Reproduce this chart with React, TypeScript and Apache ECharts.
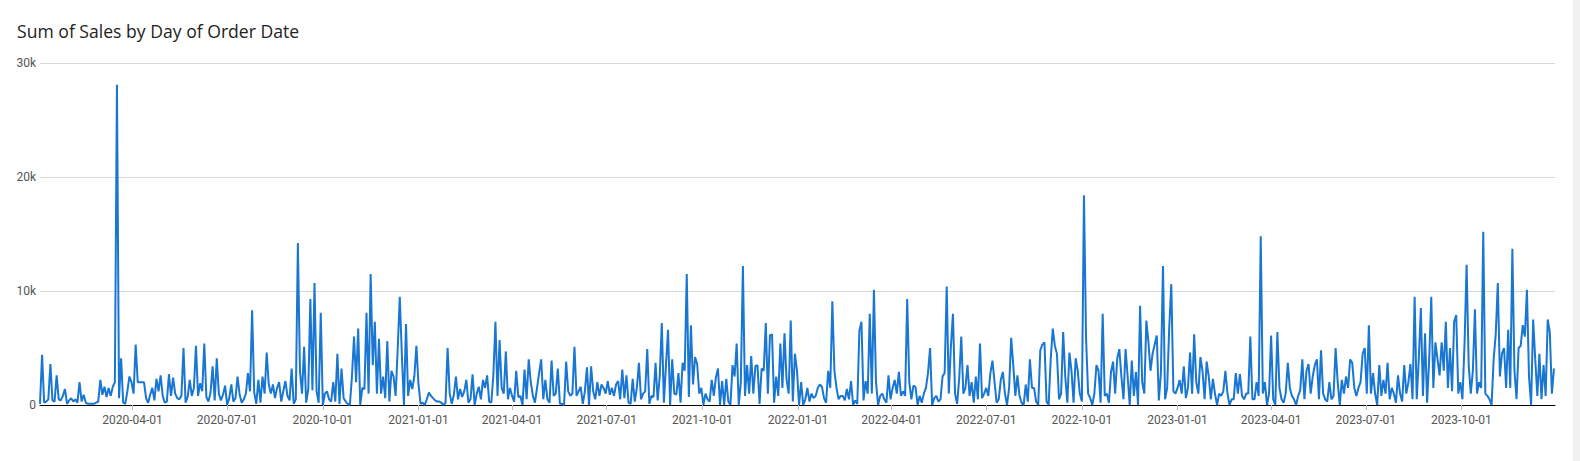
import React, { useEffect, useRef } from "react";
import * as echarts from "echarts";

const STEP_DAYS = 2;

const START_2020 = "2020-01-03";
const SALES_2020_K = [
  0.1, 4.4, 0.2, 0.3, 0.5, 3.6, 0.4, 0.3, 2.6, 0.5,
  0.4, 0.8, 1.4, 0.1, 0.4, 0.6, 0.3, 0.5, 0.2, 2.0,
  0.3, 0.9, 0.2, 0.1, 0.1, 0.1, 0.1, 0.2, 0.3, 2.2,
  0.9, 1.6, 0.7, 1.5, 0.8, 1.6, 2.0, 28.1, 0.6, 4.1,
  0.2, 0.1, 1.2, 2.5, 2.0, 1.0, 5.3, 2.0, 2.0, 2.0,
  2.0, 0.6, 0.2, 0.9, 1.5, 0.4, 2.3, 1.2,
  2.6, 0.8, 0.2, 0.3, 2.7, 0.8, 2.4, 1.0, 0.6, 0.5,
  0.8, 5.0, 0.2, 0.7, 2.2, 0.8, 1.5, 5.2, 0.8, 1.9,
  1.2, 5.4, 0.7, 0.3, 1.1, 3.4, 0.4, 4.1, 1.0, 0.4,
  0.9, 1.7, 0.0, 0.6, 1.8, 0.3, 0.6, 2.5, 0.9, 0.2,
  0.5, 1.0, 2.8, 1.2, 8.3, 1.1, 0.1, 2.2, 0.2, 2.5,
  1.0, 4.6, 1.8, 1.0, 1.8, 0.6, 1.5, 2.0, 0.3, 1.2,
  2.1, 0.8,
  0.4, 3.2, 0.1, 0.5, 14.2, 3.0, 1.0, 5.1, 0.2, 1.4,
  9.3, 1.3, 10.7, 1.2, 0.2, 8.1, 0.0, 1.0, 1.2, 0.5,
  0.3, 2.0, 0.3, 4.5, 0.1, 3.2, 0.6, 0.3, 0.1, 0.0,
  2.5, 6.0, 2.0, 6.7, 0.0, 1.5, 1.4, 8.1, 1.0, 11.5,
  3.5, 7.3, 1.0, 5.8, 1.0, 2.5, 0.6, 5.6, 0.3, 3.0,
  2.5, 0.8, 4.9, 9.5, 4.4, 0.0, 7.1, 0.8, 2.2, 1.4,
  2.5, 5.2,
];

const START_2021 = "2021-01-01";
const SALES_2021_K = [
  1.8, 0.1, 0.2, 0.0, 0.5, 1.1, 0.8, 0.6, 0.4, 0.3,
  0.3, 0.2, 0.0, 0.2, 5.0, 1.0, 0.1, 0.9, 2.5, 0.5,
  1.4, 0.7, 1.2, 2.2, 0.2, 0.5, 2.7, 0.0, 1.0, 1.6,
  0.5, 2.2, 1.5, 2.6, 0.3, 0.2, 2.6, 7.3, 0.8, 5.7,
  1.5, 1.0, 4.7, 0.5, 1.5, 0.8, 0.3, 3.0, 0.7, 0.8,
  0.0, 3.1, 0.5, 4.0, 2.0, 0.8, 0.2, 1.5, 2.8, 4.0,
  0.5,
  2.2, 0.5, 0.2, 3.9, 0.8, 1.0, 3.2, 0.1, 0.1, 0.0,
  3.8, 1.2, 0.8, 1.0, 5.1, 0.8, 1.2, 1.6, 0.1, 1.2,
  3.3, 0.0, 3.4, 1.2, 0.5, 2.0, 0.8, 1.8, 1.5, 1.0,
  2.1, 0.9, 1.5, 0.8, 1.8, 2.1, 0.5, 3.1, 0.6, 2.6,
  0.2, 0.1, 2.3, 0.3, 1.5, 3.7, 0.5, 1.0, 1.2, 4.9,
  0.1, 0.8, 0.7, 3.7, 0.4, 2.5, 7.2, 0.2, 3.5, 6.6,
  0.0, 4.0,
  1.0, 0.9, 2.8, 0.2, 3.7, 3.0, 11.5, 0.7, 7.0, 1.8,
  4.2, 3.6, 1.0, 1.5, 0.0, 1.0, 0.5, 0.3, 2.2, 0.8,
  2.4, 3.2, 0.0, 2.1, 0.0, 2.3, 0.3, 0.0, 3.5, 2.5,
  5.4, 0.0, 2.0, 12.2, 0.8, 3.5, 1.0, 4.3, 1.0, 3.4,
  3.5, 0.1, 3.2, 3.0, 7.2, 1.0, 6.1, 6.2, 0.2, 2.5,
  0.8, 5.4, 1.5, 6.3, 2.2, 1.0, 7.4, 0.3, 4.5, 3.0,
];

const START_2022 = "2022-01-02";
const SALES_2022_K = [
  0.0,
  2.0, 0.0, 0.5, 1.5, 0.3, 1.0, 0.6, 0.8, 1.5, 1.8,
  1.6, 0.6, 0.2, 3.0, 1.5, 9.1, 3.0, 1.5, 0.5, 0.8,
  0.8, 0.4, 1.4, 0.5, 2.1, 0.0, 0.4, 0.1, 6.5, 7.3,
  0.4, 2.1, 1.0, 8.0, 1.0, 10.1, 2.0, 0.0, 0.8, 1.0,
  0.5, 0.2, 2.6, 0.5, 1.5, 2.2, 1.0, 2.9, 0.8, 1.2,
  0.8, 9.3, 2.0, 0.5, 1.7, 1.6, 0.0, 0.8, 0.2, 1.0,
  1.5, 2.8,
  5.0, 0.0, 0.6, 0.8, 0.3, 0.5, 2.5, 2.8, 10.4, 1.0,
  5.1, 8.0, 1.0, 0.1, 2.3, 6.0, 1.0, 1.5, 3.5, 0.8,
  2.0, 0.2, 2.5, 0.5, 5.4, 0.6, 1.0, 1.5, 0.8, 2.8,
  3.9, 2.0, 0.2, 0.5, 2.2, 2.9, 1.0, 0.0, 1.5, 5.9,
  3.5, 0.8, 2.6, 0.8, 0.2, 0.0, 1.8, 0.3, 4.0, 1.5,
  1.5, 0.3, 0.0, 4.8, 5.3, 5.5, 0.3, 0.0, 4.0, 6.7,
  5.2, 4.5,
  0.5, 1.0, 6.4, 2.5, 0.2, 4.6, 3.0, 0.2, 4.1, 3.0,
  1.0, 0.3, 18.4, 5.9, 1.0, 0.6, 0.0, 1.0, 3.5, 3.0,
  0.2, 8.0, 0.8, 1.0, 0.2, 2.9, 3.8, 1.0, 4.1, 4.9,
  2.5, 0.5, 4.9, 2.5, 0.0, 3.9, 0.8, 2.9, 0.0, 8.7,
  2.0, 1.0, 7.4, 5.5, 3.0, 4.5, 5.3, 6.1, 0.4, 2.8,
  12.2, 0.5, 1.5, 6.8, 10.6, 1.2, 1.0,
];

const START_2023 = "2023-01-01";
const SALES_2023_K = [
  1.5, 2.2, 1.0, 3.4,
  0.6, 1.5, 4.6, 1.0, 6.2, 2.0, 1.0, 4.2, 3.0, 0.5,
  3.8, 2.5, 0.5, 2.3, 1.0, 0.0, 1.0, 0.8, 1.2, 3.0,
  1.0, 0.0, 0.5, 0.5, 2.8, 1.0, 2.7, 0.8, 0.5, 1.0,
  1.0, 6.0, 0.5, 0.5, 2.0, 0.8, 14.8, 1.0, 2.0, 0.0,
  1.0, 6.1, 0.5, 0.0, 6.4, 1.5, 0.5, 0.2, 1.0, 3.7,
  1.5, 0.8, 0.5, 0.0, 0.8, 1.3, 4.0, 0.5, 3.0, 3.6,
  1.0, 2.5,
  3.5, 4.0, 0.5, 4.8, 1.0, 0.5, 0.3, 2.0, 0.5, 0.8,
  5.0, 2.0, 0.0, 2.2, 1.0, 2.5, 1.5, 4.0, 3.7, 1.5,
  0.8, 1.5, 2.0, 4.5, 5.0, 1.0, 7.0, 1.0, 2.8, 1.0,
  0.0, 3.5, 0.8, 2.2, 1.0, 3.7, 0.5, 1.5, 1.0, 0.2,
  2.6, 1.0, 0.3, 3.5, 1.0, 2.0, 3.6, 0.5, 9.5, 0.5,
  4.0, 8.5, 0.8, 6.3, 0.2, 4.0, 9.5, 1.5, 5.5, 4.0,
  2.6, 5.5,
  3.0, 7.3, 1.5, 5.0, 1.2, 7.3, 7.9, 1.0, 2.0, 0.5,
  5.4, 12.3, 3.5, 1.0, 3.0, 8.4, 1.0, 2.0, 1.5, 15.2,
  1.0, 0.8, 0.5, 0.0, 4.0, 6.2, 10.7, 2.5, 4.5, 5.0,
  1.5, 6.6, 1.5, 13.7, 3.0, 0.5, 5.0, 5.2, 7.0, 6.0,
  10.1, 2.5, 0.0, 7.5, 4.0, 0.8, 4.5, 0.5, 3.5, 0.8,
  7.5, 6.4, 1.0, 3.2,
];

const X_MIN = "2020-01-03";
const X_MAX = "2023-12-30";
const Y_TICKS = [0, 10, 20, 30];
const X_TICK_LABELS = [
  "2020-04-01", "2020-07-01", "2020-10-01",
  "2021-01-01", "2021-04-01", "2021-07-01", "2021-10-01",
  "2022-01-01", "2022-04-01", "2022-07-01", "2022-10-01",
  "2023-01-01", "2023-04-01", "2023-07-01", "2023-10-01",
];

const DAY = 86400000;
const ts = (s: string) => {
  const [y, m, d] = s.split("-").map(Number);
  return Date.UTC(y, m - 1, d);
};
const fmt = (v: number) => {
  const dt = new Date(v);
  const p = (n: number) => String(n).padStart(2, "0");
  return `${dt.getUTCFullYear()}-${p(dt.getUTCMonth() + 1)}-${p(dt.getUTCDate())}`;
};

const buildSeries = (): [number, number][] => {
  const blocks: [string, number[]][] = [
    [START_2020, SALES_2020_K],
    [START_2021, SALES_2021_K],
    [START_2022, SALES_2022_K],
    [START_2023, SALES_2023_K],
  ];
  const out: [number, number][] = [];
  blocks.forEach(([start, vals]) => {
    const t0 = ts(start);
    vals.forEach((v, k) => out.push([t0 + k * STEP_DAYS * DAY, v]));
  });
  return out;
};

export default function App() {
  const ref = useRef<HTMLDivElement>(null);
  useEffect(() => {
    if (!ref.current) return;
    const chart = echarts.init(ref.current, undefined, { renderer: "svg" });
    const tickTs = X_TICK_LABELS.map(ts);
    const font = "Roboto, 'Noto Sans', sans-serif";
    chart.setOption({
      animation: false,
      backgroundColor: "#ffffff",
      title: {
        text: "Sum of Sales by Day of Order Date",
        left: 17,
        top: 22,
        padding: 0,
        textStyle: { fontFamily: "'Open Sans', sans-serif", fontSize: 17.6, fontWeight: "normal", color: "#222222" },
      },
      grid: { left: 40, right: 25, top: 63, bottom: 56 },
      xAxis: {
        type: "value",
        min: ts(X_MIN),
        max: ts(X_MAX),
        axisLine: { show: true, lineStyle: { color: "#000000", width: 1 } },
        axisTick: { show: true, length: 5, customValues: tickTs, lineStyle: { color: "#bbbbbb" } },
        axisLabel: {
          customValues: tickTs,
          formatter: (v: number) => fmt(v),
          color: "#555555",
          fontSize: 12,
          fontFamily: font,
          margin: 9,
        },
        splitLine: { show: false },
      },
      yAxis: {
        type: "value",
        min: Y_TICKS[0],
        max: Y_TICKS[Y_TICKS.length - 1],
        interval: 10,
        axisLine: { show: false },
        axisTick: { show: false },
        axisLabel: {
          formatter: (v: number) => (v === 0 ? "0" : `${v}k`),
          color: "#555555",
          fontSize: 12,
          fontFamily: font,
          margin: 4,
        },
        splitLine: { show: true, lineStyle: { color: "#d9d9d9", width: 1 } },
      },
      graphic: [
        { type: "rect", right: 0, top: 0, shape: { width: 7, height: 461 }, style: { fill: "#f0f0f0" } },
      ],
      series: [
        {
          type: "line",
          data: buildSeries(),
          showSymbol: false,
          symbol: "none",
          lineStyle: { color: "#1976d2", width: 2 },
          z: 3,
        },
      ],
    });
    return () => chart.dispose();
  }, []);
  return (
    <div
      ref={ref}
      style={{ position: "absolute", left: 0, top: 0, width: 1580, height: 461, background: "#fff" }}
    />
  );
}
